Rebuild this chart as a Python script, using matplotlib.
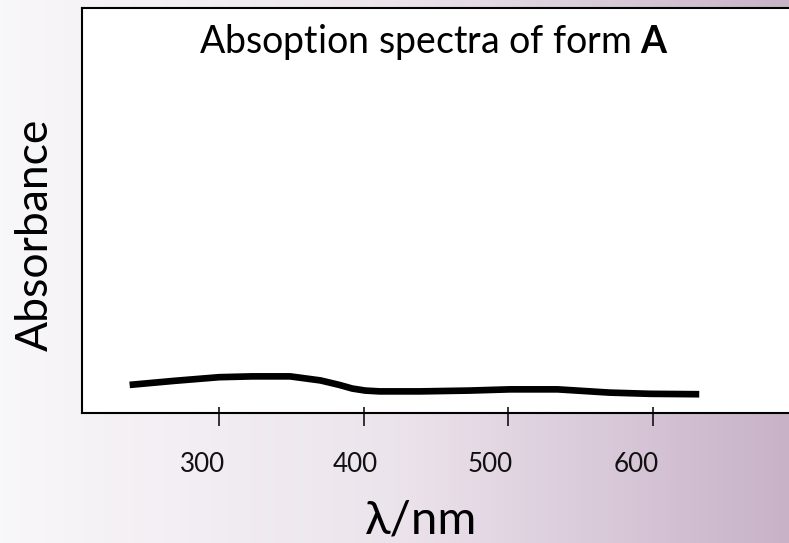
"""Absorption spectrum of form A, redrawn as a matplotlib figure"""

import numpy as np
from matplotlib import pyplot as plt
from matplotlib.colors import LinearSegmentedColormap
from matplotlib.transforms import ScaledTranslation

# data
wavelength = [238, 269, 300, 323, 349, 370, 383, 392, 401, 411, 439, 473, 501, 534, 570, 598, 632]
absorbance = [0.070, 0.080, 0.089, 0.091, 0.091, 0.081, 0.070, 0.061, 0.056, 0.054,
              0.054, 0.056, 0.059, 0.059, 0.051, 0.048, 0.047]
tick_values = [300, 400, 500, 600]
tick_labels = ["300", "400", "500", "600"]
# hand placed label offsets in the original slide (pixels, relative to the tick)
label_dx = [-17, -9, -18, -16.5]

plt.rcParams["font.family"] = ["Lato", "DejaVu Sans"]
plt.rcParams["mathtext.fontset"] = "custom"
plt.rcParams["mathtext.rm"] = "Lato"
plt.rcParams["mathtext.bf"] = "Lato:bold"

fig = plt.figure(figsize=(7.89, 5.43), dpi=100)

# slide background: pale to lilac, left to right
bg = fig.add_axes([0, 0, 1, 1], zorder=-5)
bg_cmap = LinearSegmentedColormap.from_list("slide", ["#f8f7f9", "#ece4ec", "#c8b2c8"])
bg.imshow(np.linspace(0, 1, 256)[None, :], cmap=bg_cmap, aspect="auto", extent=[0, 1, 0, 1])
bg.axis("off")

ax = fig.add_axes([81.5 / 789, (543 - 413.3) / 543, (800 - 81.5) / 789, (413.3 - 7.5) / 543])
ax.set_facecolor("white")
ax.plot(wavelength, absorbance, color="black", lw=4.8,
        solid_capstyle="butt", solid_joinstyle="round")

ax.set_xlim(204.7, 701.7)
ax.set_ylim(0, 1)
ax.set_yticks([])

for side in ["left", "top", "bottom"]:
    ax.spines[side].set_linewidth(1.5)
ax.spines["right"].set_visible(False)

# ticks cross the axis: longer outside, shorter inside
ax.set_xticks(tick_values)
ax.set_xticks(tick_values, minor=True)
ax.xaxis.remove_overlapping_locs = False
ax.tick_params(axis="x", which="major", direction="out", length=9.1, width=1.1,
               labelbottom=False)
ax.tick_params(axis="x", which="minor", direction="in", length=4, width=1.1)

for val, lab, dx in zip(tick_values, tick_labels, label_dx):
    off = ScaledTranslation(dx / 100, -58.7 / 100, fig.dpi_scale_trans)
    ax.text(val, 0, lab, transform=ax.get_xaxis_transform() + off,
            ha="center", va="baseline", fontsize=18.7, color="#111111")

fig.text(421.5 / 789, 1 - 533 / 543, "λ/nm", ha="center", va="baseline", fontsize=34)
fig.text(48 / 789, 1 - 235 / 543, "Absorbance", rotation=90, rotation_mode="anchor",
         ha="center", va="baseline", fontsize=32)
fig.text(434 / 789, 1 - 53 / 543, r"Absoption spectra of form $\bf{A}$",
         ha="center", va="baseline", fontsize=27)

fig.savefig("out.png", dpi=100)
plt.close()
